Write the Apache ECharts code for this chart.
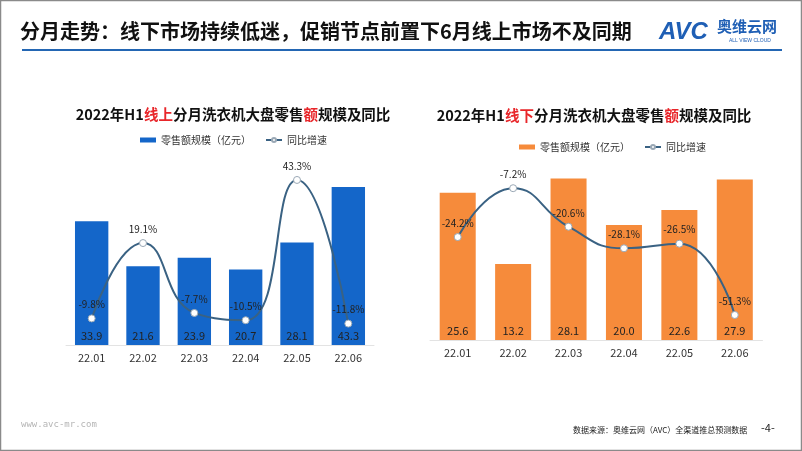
<!DOCTYPE html>
<html>
<head>
<meta charset="utf-8">
<script src="https://cdn.jsdelivr.net/npm/echarts@6/dist/echarts.min.js"></script>
<style>html,body{margin:0;padding:0;background:#fff;}#c{width:802px;height:451px;}</style>
</head>
<body>
<div id="c"></div>
<script>
const categories = ['22.01', '22.02', '22.03', '22.04', '22.05', '22.06'];
const onlineSales = [33.9, 21.6, 23.9, 20.7, 28.1, 43.3];
const onlineYoY = [-9.8, 19.1, -7.7, -10.5, 43.3, -11.8];
const offlineSales = [25.6, 13.2, 28.1, 20.0, 22.6, 27.9];
const offlineYoY = [-24.2, -7.2, -20.6, -28.1, -26.5, -51.3];
const barName = '零售额规模（亿元）';
const lineName = '同比增速';

const FONT = '"Noto Sans CJK SC", "Noto Sans", sans-serif';
const blue = '#1466C9';
const orange = '#F68B3B';
const lineColor = '#3A6283';

const chart = echarts.init(document.getElementById('c'));

function barSeries(data, color, xi, yi) {
  return {
    type: 'bar', name: barName, xAxisIndex: xi, yAxisIndex: yi, data: data,
    barWidth: '65%', itemStyle: { color: color },
    label: { show: true, position: 'insideBottom', distance: 4, color: '#222', fontSize: 11, fontFamily: FONT,
      formatter: p => p.value.toFixed(1) }
  };
}
function lineSeries(data, xi, yi) {
  return {
    type: 'line', name: lineName, xAxisIndex: xi, yAxisIndex: yi, data: data, smooth: true, clip: false,
    symbol: 'circle', symbolSize: 7,
    itemStyle: { color: '#fff', borderColor: '#9aa8b5', borderWidth: 1 },
    lineStyle: { color: lineColor, width: 2 },
    label: { show: true, position: 'top', distance: 5, color: '#222', fontSize: 10, fontFamily: FONT,
      formatter: p => p.value.toFixed(1) + '%' },
    labelLayout: { hideOverlap: false },
    z: 5
  };
}
function xAxis(gi) {
  return { type: 'category', gridIndex: gi, data: categories,
    axisLine: { lineStyle: { color: '#e3e3e3', width: 1 } }, axisTick: { show: false },
    axisLabel: { color: '#333', fontSize: 11, fontFamily: FONT, margin: 7 } };
}
const titleRich = {
  n: { fontSize: 14.5, fontWeight: 'bold', color: '#111', fontFamily: FONT },
  r: { fontSize: 14.5, fontWeight: 'bold', color: '#E8262A', fontFamily: FONT }
};

chart.setOption({
  animation: false,
  textStyle: { fontFamily: FONT },
  title: [
    { text: '{n|2022年H1}{r|线上}{n|分月洗衣机大盘零售}{r|额}{n|规模及同比}', left: 228, top: 102, textAlign: 'center',
      textStyle: { rich: titleRich } },
    { text: '{n|2022年H1}{r|线下}{n|分月洗衣机大盘零售}{r|额}{n|规模及同比}', left: 589, top: 103, textAlign: 'center',
      textStyle: { rich: titleRich } }
  ],
  legend: [
    { left: 135, top: 130, itemWidth: 16, itemHeight: 5, itemGap: 14,
      textStyle: { fontSize: 10, color: '#333', fontFamily: FONT },
      data: [{ name: barName, icon: 'rect', itemStyle: { color: blue } }, { name: lineName }] },
    { left: 514, top: 137, itemWidth: 16, itemHeight: 5, itemGap: 14,
      textStyle: { fontSize: 10, color: '#333', fontFamily: FONT },
      data: [{ name: barName, icon: 'rect', itemStyle: { color: orange } }, { name: lineName }] }
  ],
  grid: [
    { left: 66, width: 308, top: 180.75, height: 164.25 },
    { left: 430, width: 332.5, top: 167.5, height: 172.5 }
  ],
  xAxis: [xAxis(0), xAxis(1)],
  yAxis: [
    { type: 'value', gridIndex: 0, min: 0, max: 45, show: false },
    { type: 'value', gridIndex: 0, min: -20, max: 43, show: false },
    { type: 'value', gridIndex: 1, min: 0, max: 30, show: false },
    { type: 'value', gridIndex: 1, min: -60, max: 0, show: false }
  ],
  series: [
    barSeries(onlineSales, blue, 0, 0),
    lineSeries(onlineYoY, 0, 1),
    barSeries(offlineSales, orange, 1, 2),
    lineSeries(offlineYoY, 1, 3)
  ],
  graphic: [
    { type: 'rect', shape: { x: 0.5, y: 0.5, width: 801, height: 450 }, style: { fill: null, stroke: '#8a8a8a', lineWidth: 1.5 }, silent: true },
    { type: 'text', left: 20, top: 21, style: { text: '分月走势：线下市场持续低迷，促销节点前置下6月线上市场不及同期', fontSize: 20, fontWeight: 'bold', fill: '#111', fontFamily: FONT } },
    { type: 'rect', shape: { x: 22, y: 49, width: 760, height: 2 }, style: { fill: '#2366B3' } },
    { type: 'text', left: 659, top: 20, style: { text: 'AVC', fontSize: 24, fontWeight: 'bold', fontStyle: 'italic', fill: '#1F5FB5', fontFamily: '"Liberation Sans", sans-serif' } },
    { type: 'text', left: 717, top: 19, style: { text: '奥维云网', fontSize: 15, fontWeight: 'bold', fill: '#1F5FB5', fontFamily: FONT } },
    { type: 'text', left: 729, top: 38, style: { text: 'ALL VIEW CLOUD', fontSize: 5, fill: '#1F5FB5', fontFamily: '"Liberation Sans", sans-serif' } },
    { type: 'text', left: 21, top: 420, style: { text: 'www.avc-mr.com', fontSize: 9, fill: '#b5b5b5', fontFamily: '"DejaVu Sans Mono", monospace' } },
    { type: 'text', left: 573, top: 426, style: { text: '数据来源：奥维云网（AVC）全渠道推总预测数据', fontSize: 8, fill: '#222', fontFamily: FONT } },
    { type: 'text', left: 761, top: 422, style: { text: '-4-', fontSize: 11, fill: '#222', fontFamily: FONT } }
  ]
});
</script>
</body>
</html>
